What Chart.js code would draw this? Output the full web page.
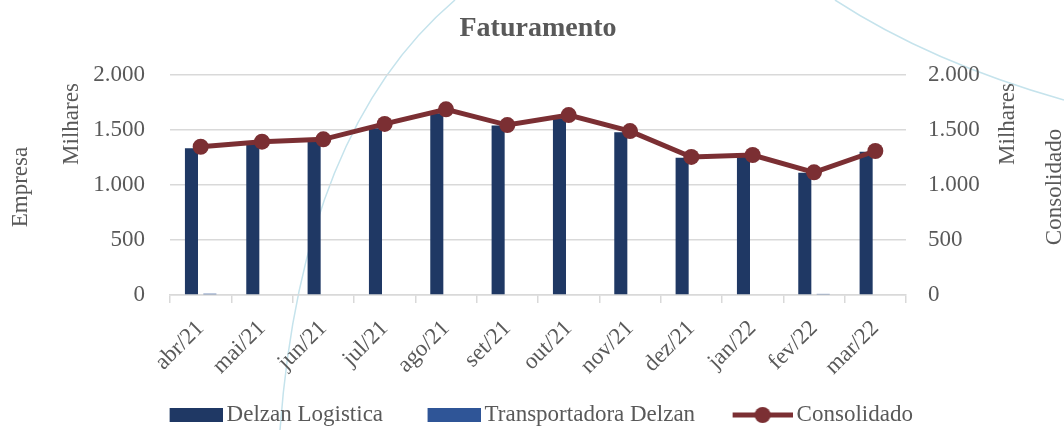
<!DOCTYPE html>
<html>
<head>
<meta charset="utf-8">
<script src="https://cdn.jsdelivr.net/npm/chart.js@4.4.1/dist/chart.umd.min.js"></script>
<style>
  html, body { margin: 0; padding: 0; background: #ffffff; }
  #wrap { width: 1064px; height: 430px; position: relative; }
</style>
</head>
<body>
<div id="wrap"><canvas id="c" width="1064" height="430"></canvas></div>
<script>
const categories = ['abr/21','mai/21','jun/21','jul/21','ago/21','set/21','out/21','nov/21','dez/21','jan/22','fev/22','mar/22'];
const delzanLogistica = [1334, 1379, 1394, 1515, 1652, 1540, 1606, 1480, 1248, 1257, 1112, 1303];
const transportadoraDelzan = [12, 0, 0, 0, 0, 0, 0, 0, 0, 0, 10, 0];
const consolidado = [1348, 1394, 1415, 1555, 1688, 1545, 1636, 1490, 1255, 1273, 1115, 1309];
const yTicks = [0, 500, 1000, 1500, 2000];
const seriesNames = ['Delzan Logistica', 'Transportadora Delzan', 'Consolidado'];

const FONT = "'Liberation Serif', 'Times New Roman', serif";
const FS = 23;
const TXT = '#595959';
const C_DL = '#1F3864';
const C_TD = '#2F5597';
const C_CO = '#7B2F33';
const P = 80;             // legend swatch slot width
const IMG_W = P + 15;     // swatch image width (coloured part right-aligned)

function fmt(v) { return String(v).replace(/\B(?=(\d{3})+(?!\d))/g, '.'); }

function boxImg(color, w, colW, h) {
  const c = document.createElement('canvas');
  c.width = w; c.height = h;
  const g = c.getContext('2d');
  g.fillStyle = color; g.fillRect(w - colW, 0, colW, h);
  return c;
}
function lineImg(color, w, colW, h) {
  const c = document.createElement('canvas');
  c.width = w; c.height = h;
  const g = c.getContext('2d');
  g.strokeStyle = color; g.lineWidth = 5;
  g.beginPath(); g.moveTo(w - colW, h / 2); g.lineTo(w, h / 2); g.stroke();
  g.fillStyle = color;
  g.beginPath(); g.arc(w - colW / 2, h / 2, 8, 0, Math.PI * 2); g.fill();
  return c;
}
const legendImgs = [boxImg(C_DL, IMG_W, 53, 14), boxImg(C_TD, IMG_W, 53, 14), lineImg(C_CO, IMG_W, 60, 18)];

const decoPlugin = {
  id: 'deco',
  beforeDraw(chart) {
    const ctx = chart.ctx;
    ctx.save();
    ctx.strokeStyle = '#c5e3ec';
    ctx.lineWidth = 1.5;
    ctx.beginPath();
    ctx.moveTo(280, 430);
    ctx.quadraticCurveTo(302, 130, 455, 0);
    ctx.stroke();
    ctx.beginPath();
    ctx.moveTo(835, 0);
    ctx.quadraticCurveTo(930, 62, 1064, 100);
    ctx.stroke();
    ctx.restore();
  }
};

const legendShiftPlugin = {
  id: 'legendShift',
  afterLayout(chart) {
    if (chart.legend) { chart.legend.left -= 14; chart.legend.right -= 14; }
  }
};

const axisTitlePlugin = {
  id: 'axisTitles',
  afterDraw(chart) {
    const ctx = chart.ctx;
    const ca = chart.chartArea;
    const midY = (ca.top + ca.bottom) / 2;
    ctx.save();
    ctx.fillStyle = TXT;
    ctx.font = FS + 'px ' + FONT;
    ctx.textAlign = 'center';
    ctx.textBaseline = 'middle';
    const items = [
      ['Empresa', 21, midY + 2],
      ['Milhares', 72, 124],
      ['Milhares', 1008, 124],
      ['Consolidado', 1055, midY + 2]
    ];
    items.forEach(([t, x, y]) => {
      ctx.save();
      ctx.translate(x, y);
      ctx.rotate(-Math.PI / 2);
      ctx.fillText(t, 0, 0);
      ctx.restore();
    });
    ctx.restore();
  }
};

new Chart(document.getElementById('c'), {
  data: {
    labels: categories,
    datasets: [
      { type: 'bar', label: seriesNames[0], data: delzanLogistica, backgroundColor: C_DL, yAxisID: 'y', order: 2,
        categoryPercentage: 0.6, barPercentage: 0.71 },
      { type: 'bar', label: seriesNames[1], data: transportadoraDelzan, backgroundColor: C_TD, yAxisID: 'y', order: 2,
        categoryPercentage: 0.6, barPercentage: 0.71 },
      { type: 'line', label: seriesNames[2], data: consolidado, borderColor: C_CO, backgroundColor: C_CO, yAxisID: 'y2', order: 1,
        borderWidth: 5, pointRadius: 8, pointHoverRadius: 8, pointBackgroundColor: C_CO, pointBorderWidth: 0, tension: 0 }
    ]
  },
  options: {
    responsive: false,
    animation: false,
    devicePixelRatio: 1,
    layout: { padding: { left: 12, right: 0, top: 0, bottom: -6.5 } },
    plugins: {
      tooltip: { enabled: false },
      title: {
        display: true, text: 'Faturamento', color: TXT,
        font: { family: FONT, size: 28, weight: 'bold' },
        padding: { top: 12, bottom: 29.4 }
      },
      legend: {
        position: 'bottom',
        labels: {
          color: TXT,
          font: { family: FONT, size: FS },
          usePointStyle: true,
          pointStyleWidth: P,
          boxHeight: 14,
          padding: 10,
          generateLabels(chart) {
            const items = Chart.defaults.plugins.legend.labels.generateLabels(chart);
            items.forEach((it) => { it.pointStyle = legendImgs[it.datasetIndex]; });
            items.sort((a, b) => a.datasetIndex - b.datasetIndex);
            return items;
          }
        }
      }
    },
    scales: {
      x: {
        afterFit(s) { s.height = 98.5; },
        grid: { offset: true, drawOnChartArea: false, drawTicks: true, tickLength: 8, color: '#d9d9d9', lineWidth: 1.5 },
        border: { color: '#d9d9d9', width: 1.5 },
        ticks: { color: TXT, font: { family: FONT, size: FS }, minRotation: 45, maxRotation: 45, padding: 12, autoSkip: false }
      },
      y: {
        position: 'left', min: 0, max: 2000,
        afterBuildTicks(s) { s.ticks = yTicks.map(v => ({ value: v })); },
        afterFit(s) { s.width = 158; },
        grid: { color: '#d9d9d9', lineWidth: 1.5, drawTicks: false },
        border: { display: false },
        ticks: { color: TXT, font: { family: FONT, size: FS }, padding: 25, callback: v => fmt(v) }
      },
      y2: {
        position: 'right', min: 0, max: 2000,
        afterBuildTicks(s) { s.ticks = yTicks.map(v => ({ value: v })); },
        afterFit(s) { s.width = 158; },
        grid: { display: false, drawTicks: false },
        border: { display: false },
        ticks: { color: TXT, font: { family: FONT, size: FS }, padding: 22, callback: v => fmt(v) }
      }
    }
  },
  plugins: [decoPlugin, legendShiftPlugin, axisTitlePlugin]
});
</script>
</body>
</html>
